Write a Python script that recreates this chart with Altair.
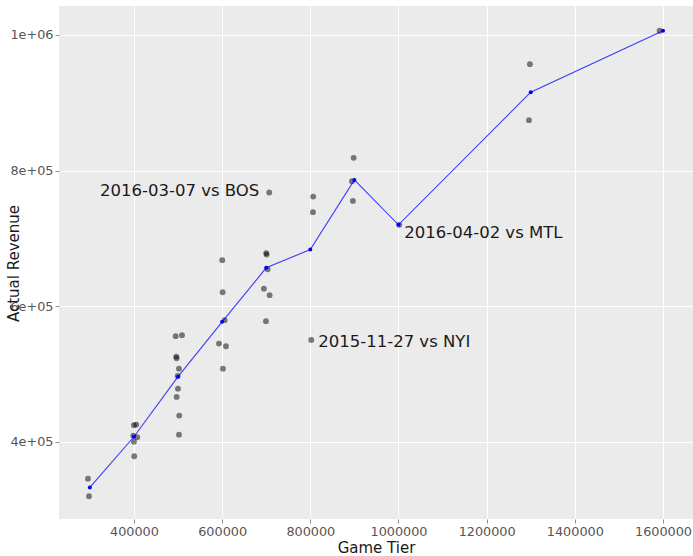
import altair as alt
import pandas as pd

# Ticket price tier for each game, and the slightly jittered x used for the dots
tier = ([300000] * 2 + [400000] * 6 + [500000] * 10 + [600000] * 6 + [700000] * 7
        + [800000] * 3 + [900000] * 3 + [1000000] + [1300000] * 2 + [1600000])
tier_jitter = [
    295700, 298000,
    400000, 405200, 398400, 407500, 400000, 400700,
    494600, 508900, 495900, 496800, 502100, 499100, 499800, 496800, 502700, 502100,
    600300, 601200, 605700, 592800, 608700, 601900,
    706900, 700000, 700900, 703200, 694800, 707700, 699400,
    806600, 806000, 802100,
    898300, 894400, 896700,
    1001700,
    1298100, 1295900,
    1592300,
]
revenue = [
    346000, 320000,
    424700, 425600, 409400, 407000, 400500, 379000,
    555900, 557400, 525800, 523400, 508100, 497400, 478600, 466400, 438900, 410800,
    667900, 620700, 579500, 545000, 541100, 508100,
    767600, 678200, 676200, 654600, 626000, 616300, 578000,
    761700, 738700, 550400,
    818700, 784400, 755300,
    720000,
    956800, 874300,
    1006000,
]
game = [""] * len(tier)
game[24] = "2016-03-07 vs BOS"
game[33] = "2015-11-27 vs NYI"
game[37] = "2016-04-02 vs MTL"

df = pd.DataFrame({"tier": tier, "tier_jitter": tier_jitter,
                   "revenue": revenue, "game": game})

FONT = "DejaVu Sans"
x_scale = alt.Scale(domain=[230000, 1668000], nice=False, zero=False)
y_scale = alt.Scale(domain=[286500, 1042500], nice=False, zero=False)

x_axis = alt.Axis(title="Game Tier", values=[400000, 600000, 800000, 1000000,
                                              1200000, 1400000, 1600000],
                  format="d", titlePadding=3)
y_axis = alt.Axis(title="Actual Revenue", values=[400000, 600000, 800000, 1000000],
                  labelExpr="datum.value >= 1000000 ? '1e+06' : (datum.value / 100000) + 'e+05'",
                  titleX=-38, titleY=257, titleBaseline="bottom", titleAlign="center")

base = alt.Chart(df)

dots = base.mark_circle(size=34, color="black", opacity=0.5).encode(
    x=alt.X("tier_jitter:Q", scale=x_scale, axis=x_axis),
    y=alt.Y("revenue:Q", scale=y_scale, axis=y_axis),
)

mean_line = base.mark_line(color="#0000ff", strokeWidth=1.1, opacity=0.75).encode(
    x=alt.X("tier:Q", scale=x_scale),
    y=alt.Y("mean(revenue):Q", scale=y_scale),
)

mean_pts = base.mark_circle(color="#0000ff", size=16, opacity=1).encode(
    x=alt.X("tier:Q", scale=x_scale),
    y=alt.Y("mean(revenue):Q", scale=y_scale),
)


def game_label(name, align, dx, dy):
    return base.transform_filter(alt.datum.game == name).mark_text(
        align=align, baseline="middle", dx=dx, dy=dy, font=FONT,
        fontSize=16.5, color="#1a1a1a",
    ).encode(
        x=alt.X("tier_jitter:Q", scale=x_scale),
        y=alt.Y("revenue:Q", scale=y_scale),
        text="game:N",
    )


labels = (game_label("2016-03-07 vs BOS", "right", -10, -2)
          + game_label("2015-11-27 vs NYI", "left", 7, 2)
          + game_label("2016-04-02 vs MTL", "left", 5, 8))

chart = (dots + mean_line + mean_pts + labels).properties(
    width=634, height=513,
    autosize=alt.AutoSizeParams(type="none"),
    padding={"left": 59, "top": 6, "right": 0, "bottom": 37},
).configure_view(
    fill="#ebebeb", strokeWidth=0,
).configure_axis(
    domain=False, grid=True, gridColor="#ffffff", gridWidth=1,
    tickColor="#8c8c8c", tickSize=4, tickWidth=1,
    labelFont=FONT, labelFontSize=12.8, labelColor="#555555", labelPadding=2,
    titleFont=FONT, titleFontSize=15, titleFontWeight="normal", titleColor="#1a1a1a",
)

chart.save("out.html", embed_options={"renderer": "svg", "actions": False})
